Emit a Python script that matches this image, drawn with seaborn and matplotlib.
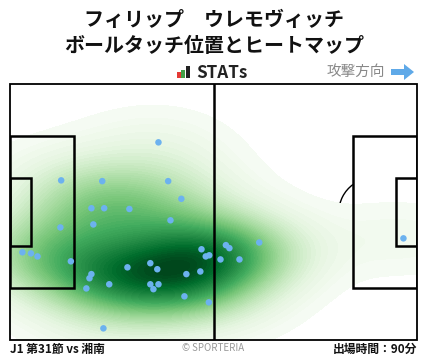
import matplotlib
matplotlib.use("Agg")
import matplotlib.pyplot as plt
import seaborn as sns
import numpy as np
import pandas as pd
from matplotlib.patches import Rectangle, Arc, Polygon

# ---- data (pitch metres, 105 x 68, y up) ----
touch_x = [38.3, 13.2, 23.8, 40.8, 44.2, 21.0, 24.3, 30.8, 21.5, 41.4,
           13.0, 3.2, 5.4, 7.1, 15.7, 49.4, 50.5, 51.4, 54.3, 36.2,
           30.3, 38.0, 21.0, 20.5, 45.5, 49.1, 25.6, 36.2, 38.3, 37.0,
           19.7, 45.0, 51.3, 24.1, 55.7, 56.6, 64.3, 59.2, 101.5]
touch_y = [52.5, 42.4, 42.2, 42.2, 37.5, 35.0, 35.0, 34.8, 30.7, 31.8,
           29.9, 23.3, 23.0, 22.2, 20.9, 24.1, 22.2, 22.5, 21.4, 20.4,
           19.3, 18.8, 17.5, 16.4, 17.5, 18.2, 14.8, 14.8, 14.8, 13.5,
           13.7, 11.6, 10.0, 3.1, 25.2, 24.4, 25.9, 21.4, 27.0]

title_lines = ["フィリップ　ウレモヴィッチ", "ボールタッチ位置とヒートマップ"]
match_label = "J1 第31節 vs 湘南"
minutes_label = "出場時間：90分"
credit_label = "© SPORTERIA"
direction_label = "攻撃方向"
logo_label = "STATs"

df = pd.DataFrame({"x": touch_x, "y": touch_y})

sns.set_theme(style="white")
plt.rcParams['font.family'] = ['Noto Sans CJK JP', 'DejaVu Sans']

W, H = 428, 359
fig = plt.figure(figsize=(W / 100, H / 100), dpi=100)
ax = fig.add_axes([10 / W, (H - 340) / H, 407 / W, 256 / H])
ax.set_xlim(0, 105)
ax.set_ylim(0, 68)
ax.axis("off")

# arcs below the heatmap
ax.add_patch(Arc((11, 34), 18.3, 18.3, theta1=-53, theta2=53, color="black", lw=1.0, zorder=0.5))
ax.add_patch(Arc((94, 34), 18.3, 18.3, theta1=127, theta2=233, color="black", lw=1.0, zorder=0.5))

sns.kdeplot(data=df, x="x", y="y", fill=True, cmap="Greens", levels=60,
            thresh=0.012, bw_adjust=1.3, clip=((0, 105), (0, 68)), ax=ax, zorder=1)

# pitch lines
lc = "black"
ax.add_patch(Rectangle((0, 0), 105, 68, fill=False, ec=lc, lw=1.3, zorder=3, clip_on=False))
ax.plot([52.5, 52.5], [0, 68], color=lc, lw=1.8, zorder=3)
for x0, w in [(0, 16.5), (105 - 16.5, 16.5)]:
    ax.add_patch(Rectangle((x0, 34 - 20.16), w, 40.32, fill=False, ec=lc, lw=1.8, zorder=3))
for x0, w in [(0, 5.5), (105 - 5.5, 5.5)]:
    ax.add_patch(Rectangle((x0, 34 - 9.16), w, 18.32, fill=False, ec=lc, lw=1.8, zorder=3))

sns.scatterplot(data=df, x="x", y="y", color="#6cb2ef", s=22, edgecolor="none",
                ax=ax, zorder=4, legend=False)
ax.set_xlabel("")
ax.set_ylabel("")

# titles
fig.text(214 / W, 1 - 20 / H, title_lines[0], ha="center", va="center",
         fontsize=14.4, fontweight="bold", color="#111111")
fig.text(214 / W, 1 - 46 / H, title_lines[1], ha="center", va="center",
         fontsize=14.4, fontweight="bold", color="#111111")

# logo
for (x0, y0, w, h, c) in [(177, 72, 3.5, 6, "#e53935"), (181, 70, 3.5, 8, "#43a047"), (186, 66, 3.5, 12, "#222222")]:
    fig.add_artist(Rectangle((x0 / W, 1 - (y0 + h) / H), w / W, h / H,
                             transform=fig.transFigure, color=c, lw=0))
fig.text(196 / W, 1 - 73 / H, logo_label, ha="left", va="center",
         fontsize=12.3, fontweight="bold", color="#222222")

# attack direction
fig.text(385 / W, 1 - 72 / H, direction_label, ha="right", va="center",
         fontsize=10.5, color="#888888")
arrow_px = [(391, 69), (404, 69), (404, 64), (414, 72), (404, 80), (404, 75), (391, 75)]
fig.add_artist(Polygon([(px / W, 1 - py / H) for px, py in arrow_px], closed=True,
                       transform=fig.transFigure, color="#5fa9e8", lw=0))

# footer
fig.text(10 / W, 1 - 349 / H, match_label, ha="left", va="center",
         fontsize=8.5, fontweight="bold", color="#111111")
fig.text(213 / W, 1 - 348 / H, credit_label, ha="center", va="center",
         fontsize=7, color="#999999")
fig.text(417 / W, 1 - 349 / H, minutes_label, ha="right", va="center",
         fontsize=8.5, fontweight="bold", color="#111111")

fig.savefig("out.png", dpi=100, facecolor="white")
